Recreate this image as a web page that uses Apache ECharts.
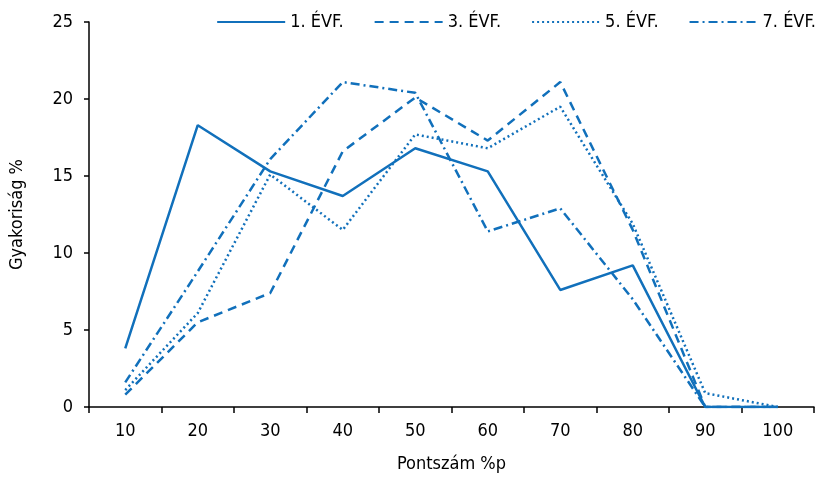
<!DOCTYPE html>
<html>
<head>
<meta charset="utf-8">
<script src="https://cdn.jsdelivr.net/npm/echarts@6/dist/echarts.min.js"></script>
<style>
  html, body { margin: 0; padding: 0; background: #fff; }
  #chart { width: 816px; height: 477px; }
</style>
</head>
<body>
<div id="chart"></div>
<script>
// Score bands (percentage points)
const categories = ['10', '20', '30', '40', '50', '60', '70', '80', '90', '100'];

// Frequency (%) per year group
const evf1 = [3.8, 18.3, 15.3, 13.7, 16.8, 15.3, 7.6, 9.2, 0, 0];
const evf3 = [0.8, 5.5, 7.4, 16.6, 20.1, 17.3, 21.1, 11.5, 0, 0];
const evf5 = [1.1, 6.1, 15.1, 11.5, 17.7, 16.8, 19.5, 11.9, 0.9, 0];
const evf7 = [1.6, 8.8, 16.1, 21.1, 20.4, 11.4, 12.9, 7.0, 0, 0];

const seriesNames = ['1. ÉVF.', '3. ÉVF.', '5. ÉVF.', '7. ÉVF.'];

const blue = '#1170bb';
const font = "'DejaVu Sans Condensed', 'Liberation Sans', sans-serif";
const fs = 18;

const lineTypes = ['solid', [9, 6], [2, 3], [9, 4, 2, 4]];
const data = [evf1, evf3, evf5, evf7];

const chart = echarts.init(document.getElementById('chart'));
chart.setOption({
  animation: false,
  textStyle: { fontFamily: font },
  grid: { left: 89, right: 2, top: 22, bottom: 70, outerBoundsMode: 'none', containLabel: false },
  legend: {
    right: 0,
    top: 13,
    padding: 0,
    itemWidth: 68,
    itemHeight: 14,
    itemGap: 30,
    itemStyle: { color: 'transparent', borderWidth: 0, opacity: 0 },
    textStyle: { fontFamily: font, fontSize: fs, color: '#000' },
    data: seriesNames
  },
  xAxis: {
    type: 'category',
    data: categories,
    boundaryGap: true,
    name: 'Pontszám %p',
    nameLocation: 'middle',
    nameGap: 48,
    nameTextStyle: { fontFamily: font, fontSize: fs, color: '#000' },
    axisLine: { lineStyle: { color: '#000', width: 1.5 } },
    axisTick: { show: true, inside: false, length: 6, lineStyle: { color: '#000', width: 1.5 } },
    axisLabel: { fontFamily: font, fontSize: fs, color: '#000', margin: 15 }
  },
  yAxis: {
    type: 'value',
    min: 0,
    max: 25,
    interval: 5,
    name: 'Gyakoriság %',
    nameLocation: 'middle',
    nameGap: 63,
    nameRotate: 90,
    nameTextStyle: { fontFamily: font, fontSize: fs, color: '#000' },
    axisLine: { show: true, lineStyle: { color: '#000', width: 1.5 } },
    axisTick: { show: true, inside: false, length: 5, lineStyle: { color: '#000', width: 1.5 } },
    axisLabel: { fontFamily: font, fontSize: fs, color: '#000', margin: 16 },
    splitLine: { show: false }
  },
  series: data.map((d, i) => ({
    name: seriesNames[i],
    type: 'line',
    data: d,
    symbol: 'none',
    lineStyle: { color: blue, width: 2.5, type: lineTypes[i] },
    itemStyle: { color: blue }
  }))
});
</script>
</body>
</html>
